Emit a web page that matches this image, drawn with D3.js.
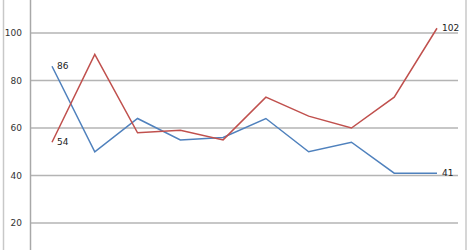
<!DOCTYPE html>
<html>
<head>
<meta charset="utf-8">
<script src="https://cdn.jsdelivr.net/npm/d3@7"></script>
<style>
body { margin: 0; background: #fff; }
svg { display: block; }
.tick text { font-family: "DejaVu Sans", sans-serif; font-size: 9px; fill: #333; }
.lbl { font-family: "DejaVu Sans", sans-serif; font-size: 9px; fill: #222; }
</style>
</head>
<body>
<script>
var width = 469;
var height = 250;

var categories = [1, 2, 3, 4, 5, 6, 7, 8, 9, 10];
var blueValues = [86, 50, 64, 55, 56, 64, 50, 54, 41, 41];
var redValues = [54, 91, 58, 59, 55, 73, 65, 60, 73, 102];
var yTicks = [20, 40, 60, 80, 100];

var svg = d3.select("body").append("svg")
    .attr("width", width)
    .attr("height", height);

// x: first point at 52, last at 437
var x = d3.scalePoint()
    .domain(categories)
    .range([52, 437]);

// y: 100 -> 33, 20 -> 223
var y = d3.scaleLinear()
    .domain([20, 100])
    .range([223, 33]);

// outer frame lines
svg.append("line")
    .attr("x1", 3.5).attr("x2", 3.5)
    .attr("y1", 0).attr("y2", height)
    .style("stroke", "#c8c8c8").style("stroke-width", 1.5);
svg.append("line")
    .attr("x1", 466).attr("x2", 466)
    .attr("y1", 0).attr("y2", height)
    .style("stroke", "#c8c8c8").style("stroke-width", 1.5);

// gridlines
svg.append("g")
    .selectAll("line")
    .data(yTicks)
    .enter()
    .append("line")
    .attr("x1", 30)
    .attr("x2", 458)
    .attr("y1", d => y(d))
    .attr("y2", d => y(d))
    .style("stroke", "#b4b4b4")
    .style("stroke-width", 1.5);

// y axis
var yAxis = svg.append("g")
    .attr("transform", "translate(30,0)")
    .call(d3.axisLeft(y).tickValues(yTicks).tickSize(0).tickPadding(8));
yAxis.select(".domain").remove();
svg.append("line")
    .attr("x1", 30.5).attr("x2", 30.5)
    .attr("y1", 0).attr("y2", height)
    .style("stroke", "#a8a8a8").style("stroke-width", 1.5);

var line = d3.line()
    .x((d, i) => x(categories[i]))
    .y(d => y(d));

svg.append("path")
    .datum(blueValues)
    .attr("d", line)
    .style("fill", "none")
    .style("stroke", "#4f81bd")
    .style("stroke-width", 1.5);

svg.append("path")
    .datum(redValues)
    .attr("d", line)
    .style("fill", "none")
    .style("stroke", "#c0504d")
    .style("stroke-width", 1.5);

// end point labels
var first = categories[0], last = categories[categories.length - 1];
var labels = [
    {c: first, v: blueValues[0]},
    {c: first, v: redValues[0]},
    {c: last, v: redValues[redValues.length - 1]},
    {c: last, v: blueValues[blueValues.length - 1]}
];
svg.append("g")
    .selectAll("text")
    .data(labels)
    .enter()
    .append("text")
    .attr("class", "lbl")
    .attr("x", d => x(d.c) + 5)
    .attr("y", d => y(d.v) + 3)
    .text(d => d.v);
</script>
</body>
</html>
